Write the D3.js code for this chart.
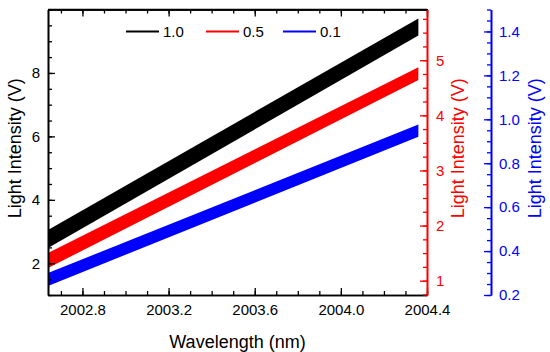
<!DOCTYPE html>
<html>
<head>
<meta charset="utf-8">
<script src="https://cdn.jsdelivr.net/npm/d3@7"></script>
<style>
  body { margin: 0; background: #fff; }
  svg text { font-family: "Liberation Sans", Arial, sans-serif; }
</style>
</head>
<body>
<div id="chart"></div>
<script>
// data: band edges at start and end wavelength
var wavelength = [2002.64, 2004.36];
var black_lo = [2.48, 9.18], black_hi = [3.05, 9.72];   // left axis
var red_lo = [1.23, 4.64], red_hi = [1.50, 4.87];       // red axis
var blue_lo = [0.241, 0.921], blue_hi = [0.300, 0.976]; // blue axis
var legendLabels = ["1.0", "0.5", "0.1"];
var colors = ["#000000", "#ff0000", "#0000ff"];

var width = 550, height = 352;
var margin = {top: 9.5, left: 48, bottom: 295, right: 427};
var blueX = 491;
var tickFont = 15, titleFont = 18;

var svg = d3.select("#chart").append("svg")
  .attr("width", width).attr("height", height);

var x = d3.scaleLinear().domain([2002.64, 2004.4]).range([margin.left, margin.right]);
var yL = d3.scaleLinear().domain([1, 10]).range([margin.bottom, margin.top]);
var yR = d3.scaleLinear().domain([0.74, 5.92]).range([margin.bottom, margin.top]);
var yB = d3.scaleLinear().domain([0.2, 1.5]).range([margin.bottom, margin.top]);

// bands
function band(lo, hi, y, color) {
  var rows = wavelength.map(function(w, i) { return {w: w, lo: lo[i], hi: hi[i]}; });
  var area = d3.area()
    .x(function(d) { return x(d.w); })
    .y0(function(d) { return y(d.lo); })
    .y1(function(d) { return y(d.hi); });
  svg.append("path").datum(rows).attr("d", area).attr("fill", color);
}
band(black_lo, black_hi, yL, colors[0]);
band(red_lo, red_hi, yR, colors[1]);
band(blue_lo, blue_hi, yB, colors[2]);

// helper for minor ticks
function ticksBy(domain, step) {
  var out = [];
  var start = Math.ceil(domain[0] / step - 1e-6) * step;
  for (var v = start; v <= domain[1] + 1e-9; v += step) out.push(+v.toFixed(6));
  return out;
}

function styleAxis(g, color) {
  g.select(".domain").attr("stroke", color).attr("stroke-width", 1.6);
  g.selectAll(".tick line").attr("stroke", color).attr("stroke-width", 1.3);
  g.selectAll("text").attr("fill", color)
    .attr("font-family", null).style("font-size", tickFont + "px");
}

// bottom axis
var xMajor = [2002.8, 2003.2, 2003.6, 2004.0, 2004.4];
var xMinor = ticksBy(x.domain(), 0.1);
var gxm = svg.append("g").attr("transform", "translate(0," + margin.bottom + ")")
  .call(d3.axisBottom(x).tickValues(xMinor).tickSize(-4).tickFormat("").tickSizeOuter(0));
styleAxis(gxm, "#000");
var gx = svg.append("g").attr("transform", "translate(0," + margin.bottom + ")")
  .call(d3.axisBottom(x).tickValues(xMajor).tickSize(-7).tickPadding(9.5).tickFormat(d3.format(".1f")).tickSizeOuter(0));
styleAxis(gx, "#000");

// top axis
var gtm = svg.append("g").attr("transform", "translate(0," + margin.top + ")")
  .call(d3.axisTop(x).tickValues(xMinor).tickSize(-4).tickFormat("").tickSizeOuter(0));
styleAxis(gtm, "#000");
var gt = svg.append("g").attr("transform", "translate(0," + margin.top + ")")
  .call(d3.axisTop(x).tickValues(xMajor).tickSize(-7).tickFormat("").tickSizeOuter(0));
styleAxis(gt, "#000");

// left axis
var gym = svg.append("g").attr("transform", "translate(" + margin.left + ",0)")
  .call(d3.axisLeft(yL).tickValues(ticksBy(yL.domain(), 0.5)).tickSize(-4).tickFormat("").tickSizeOuter(0));
styleAxis(gym, "#000");
var gy = svg.append("g").attr("transform", "translate(" + margin.left + ",0)")
  .call(d3.axisLeft(yL).tickValues([2, 4, 6, 8]).tickSize(-7).tickPadding(8).tickFormat(d3.format("d")).tickSizeOuter(0));
styleAxis(gy, "#000");

// red right axis
var grm = svg.append("g").attr("transform", "translate(" + margin.right + ",0)")
  .call(d3.axisRight(yR).tickValues(ticksBy(yR.domain(), 0.25)).tickSize(-4).tickFormat("").tickSizeOuter(0));
styleAxis(grm, "#ff0000");
var gr = svg.append("g").attr("transform", "translate(" + margin.right + ",0)")
  .call(d3.axisRight(yR).tickValues([1, 2, 3, 4, 5]).tickSize(-7).tickPadding(9).tickFormat(d3.format("d")).tickSizeOuter(0));
styleAxis(gr, "#ff0000");

// blue right axis
var gbm = svg.append("g").attr("transform", "translate(" + blueX + ",0)")
  .call(d3.axisRight(yB).tickValues(ticksBy(yB.domain(), 0.05)).tickSize(-4).tickFormat("").tickSizeOuter(0));
styleAxis(gbm, "#0000ff");
var gb = svg.append("g").attr("transform", "translate(" + blueX + ",0)")
  .call(d3.axisRight(yB).tickValues([0.2, 0.4, 0.6, 0.8, 1.0, 1.2, 1.4]).tickSize(-7).tickPadding(8).tickFormat(d3.format(".1f")).tickSizeOuter(0));
styleAxis(gb, "#0000ff");

// top frame line
svg.append("line")
  .attr("x1", margin.left).attr("x2", margin.right)
  .attr("y1", margin.top).attr("y2", margin.top)
  .attr("stroke", "#000").attr("stroke-width", 1.6);

// axis titles
var midY = (margin.top + margin.bottom) / 2 - 4;
svg.append("text").attr("x", (margin.left + margin.right) / 2).attr("y", 348)
  .attr("text-anchor", "middle").style("font-size", titleFont + "px").text("Wavelength (nm)");
svg.append("text").attr("transform", "translate(21," + midY + ") rotate(-90)")
  .attr("text-anchor", "middle").style("font-size", titleFont + "px").text("Light Intensity (V)");
svg.append("text").attr("transform", "translate(464," + midY + ") rotate(-90)")
  .attr("text-anchor", "middle").style("font-size", titleFont + "px").attr("fill", "#ff0000").text("Light Intensity (V)");
svg.append("text").attr("transform", "translate(541," + midY + ") rotate(-90)")
  .attr("text-anchor", "middle").style("font-size", titleFont + "px").attr("fill", "#0000ff").text("Light Intensity (V)");

// legend
var legendX = [126, 206, 283];
legendLabels.forEach(function(lab, i) {
  svg.append("line")
    .attr("x1", legendX[i]).attr("x2", legendX[i] + 33)
    .attr("y1", 31.5).attr("y2", 31.5)
    .attr("stroke", colors[i]).attr("stroke-width", 2);
  svg.append("text").attr("x", legendX[i] + 37).attr("y", 37)
    .style("font-size", tickFont + "px").text(lab);
});
</script>
</body>
</html>
